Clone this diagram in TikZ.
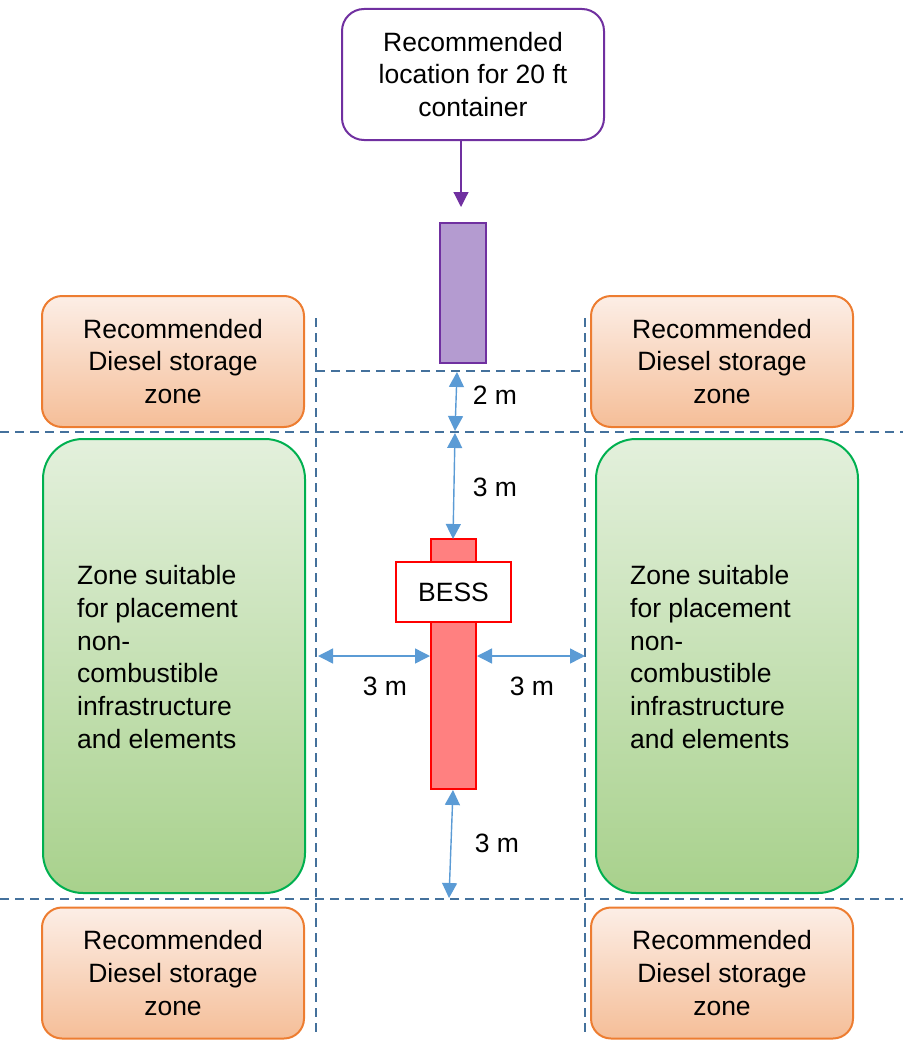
\documentclass[tikz,border=0pt]{standalone}
\usepackage{fontspec}
\setmainfont{Liberation Sans}
\usetikzlibrary{arrows.meta}

\definecolor{purpleline}{HTML}{7030A0}
\definecolor{purplefill}{HTML}{B49BD0}
\definecolor{orangeline}{HTML}{ED7D31}
\definecolor{dieseltop}{HTML}{FCEEE6}
\definecolor{dieselbot}{HTML}{F5BE98}
\definecolor{greenline}{HTML}{00B050}
\definecolor{zonetop}{HTML}{E3F0DC}
\definecolor{zonebot}{HTML}{A8D18C}
\definecolor{bessline}{HTML}{FF0000}
\definecolor{bessfill}{HTML}{FF8080}
\definecolor{gridline}{HTML}{44719C}
\definecolor{dimline}{HTML}{5B9BD5}

\newcommand\boxfont{\fontsize{26.5}{32.7}\selectfont}

\tikzset{
  diesel/.style={draw=orangeline, line width=2pt, rounded corners=20pt,
    top color=dieseltop, bottom color=dieselbot, minimum width=262pt,
    minimum height=131pt, align=center, font=\boxfont},
  zonebox/.style={draw=greenline, line width=2pt, rounded corners=40pt,
    top color=zonetop, bottom color=zonebot, minimum width=262pt,
    minimum height=454pt},
  zonetext/.style={anchor=west, align=left, inner sep=0pt, font=\boxfont},
  gridln/.style={draw=gridline, line width=2.5pt, dash pattern=on 9pt off 6pt},
  dimarrow/.style={draw=dimline, line width=1.4pt,
    {Triangle[length=15pt,width=15pt]}-{Triangle[length=15pt,width=15pt]}},
  dimlabel/.style={font=\boxfont},
  bessbar/.style={draw=bessline, line width=2pt, fill=bessfill}
}

\begin{document}
\begin{tikzpicture}[x=1pt,y=-1pt]
\useasboundingbox (0,0) rectangle (903,1041);

% safety distance grid
\draw[gridln] (316,318) -- (316,1035);
\draw[gridln] (585,318) -- (585,1035);
\draw[gridln] (0,432) -- (903,432);
\draw[gridln] (0,899) -- (903,899);
\draw[gridln] (316,371) -- (585,371);

% diesel storage zones
\node[diesel] (dieselTL) at (173,361.5) {Recommended\\Diesel storage\\zone};
\node[diesel] (dieselTR) at (722,361.5) {Recommended\\Diesel storage\\zone};
\node[diesel] (dieselBL) at (173,973) {Recommended\\Diesel storage\\zone};
\node[diesel] (dieselBR) at (722,973) {Recommended\\Diesel storage\\zone};

% zones for non-combustible elements
\node[zonebox] (zoneL) at (174,666) {};
\node[zonebox] (zoneR) at (727,666) {};
\node[zonetext] (zoneLtext) at (77,657) {Zone suitable\\for placement\\non-\\combustible\\infrastructure\\and elements};
\node[zonetext] (zoneRtext) at (630,657) {Zone suitable\\for placement\\non-\\combustible\\infrastructure\\and elements};

% container
\node[draw=purpleline, line width=2pt, rounded corners=22pt, fill=white,
  minimum width=262pt, minimum height=131pt, align=center, font=\boxfont]
  (contlabel) at (473,74.5) {Recommended\\location for 20 ft\\container};
\node[draw=purpleline, line width=2pt, fill=purplefill, inner sep=0pt,
  minimum width=46pt, minimum height=140pt] (container) at (463,293) {};
\coordinate (contarrow) at (461,207);
\draw[purpleline, line width=1.2pt, -{Triangle[length=15pt,width=15pt]}]
  (contlabel.south -| contarrow) -- (contarrow);

% BESS
\node[bessbar, inner sep=0pt, minimum width=45pt, minimum height=23pt] (bessstub) at (453.5,550.5) {};
\node[bessbar, inner sep=0pt, minimum width=45pt, minimum height=167pt] (bessbody) at (453.5,705.5) {};
\node[draw=bessline, line width=2pt, fill=white, inner sep=0pt,
  minimum width=115pt, minimum height=60pt, font=\boxfont] (bess) at (453.5,592) {BESS};

% distances
\coordinate (d2top) at (457,372);
\coordinate (d2bot) at (455,431);
\coordinate (d3top) at (455,433);
\coordinate (d3bot) at (453,539);
\coordinate (dLa) at (318,656);
\coordinate (dLb) at (430,656);
\coordinate (dRa) at (477,656);
\coordinate (dRb) at (585,656);
\coordinate (dBa) at (453,790);
\coordinate (dBb) at (449,898);
\draw[dimarrow] (d2top) -- (d2bot);
\draw[dimarrow] (d3top) -- (d3bot);
\draw[dimarrow] (dLa) -- (dLb);
\draw[dimarrow] (dRa) -- (dRb);
\draw[dimarrow] (dBa) -- (dBb);
\node[dimlabel] (l2m) at (495,395) {2 m};
\node[dimlabel] (l3mtop) at (495,487) {3 m};
\node[dimlabel] (l3mleft) at (385,686) {3 m};
\node[dimlabel] (l3mright) at (532,686) {3 m};
\node[dimlabel] (l3mbot) at (497,843) {3 m};
\end{tikzpicture}
\end{document}
